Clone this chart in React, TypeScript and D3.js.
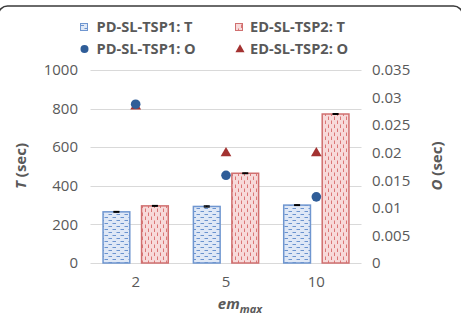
import React from "react";
import * as d3 from "d3";

// categories (em_max) and the two heuristics
const categories = ["2", "5", "10"];
const seriesNames = ["PD-SL-TSP1", "ED-SL-TSP2"];

// total time T (sec), bars
const pdTime = [265, 293, 300];
const edTime = [296, 465, 772];
const pdTimeErr = [2, 3, 2];
const edTimeErr = [2, 2, 2];

// overhead O (sec), markers
const pdOverhead = [0.0288, 0.0159, 0.012];
const edOverhead = [0.0284, 0.0199, 0.0199];

const leftTicks = [0, 200, 400, 600, 800, 1000];
const rightTicks = [0, 0.005, 0.01, 0.015, 0.02, 0.025, 0.03, 0.035];

const W = 461;
const H = 316;
const FONT = "'Open Sans', sans-serif";
const TEXT = "#595959";
const BLUE_LINE = "#6f96d0";
const BLUE_FILL = "#dfe8f6";
const BLUE_DASH = "#6a93cf";
const RED_LINE = "#d07070";
const RED_FILL = "#f7dada";
const RED_DASH = "#dc7676";
const DOT = "#2f5d98";
const TRI = "#a33231";

export default function App() {
  const margin = { left: 90.5, right: W - 361.5, top: 70, bottom: H - 263 };
  const x0 = d3
    .scaleBand<string>()
    .domain(categories)
    .range([margin.left, W - margin.right]);
  const x1 = d3
    .scaleBand<string>()
    .domain(seriesNames)
    .range([0, x0.bandwidth()])
    .paddingInner(0.305)
    .paddingOuter(0.326);
  const yL = d3.scaleLinear().domain([0, 1000]).range([H - margin.bottom, margin.top]);
  const yR = d3.scaleLinear().domain([0, 0.035]).range([H - margin.bottom, margin.top]);

  const bars = [
    { name: seriesNames[0], vals: pdTime, err: pdTimeErr, fill: "url(#hdash)", stroke: BLUE_LINE },
    { name: seriesNames[1], vals: edTime, err: edTimeErr, fill: "url(#vdash)", stroke: RED_LINE },
  ];
  const triangle = d3.symbol(d3.symbolTriangle, 50)() as string;
  const cx = (c: string) => (x0(c) as number) + x0.bandwidth() / 2;

  return (
    <svg
      width={W}
      height={H}
      style={{ position: "absolute", left: 0, top: 0, background: "#fff" }}
      fontFamily={FONT}
    >
      <defs>
        <pattern id="hdash" patternUnits="userSpaceOnUse" width="8" height="6">
          <rect width="8" height="6" fill={BLUE_FILL} />
          <line x1="0.5" y1="1.5" x2="4" y2="1.5" stroke={BLUE_DASH} strokeWidth="1" />
          <line x1="4.5" y1="4.5" x2="8" y2="4.5" stroke={BLUE_DASH} strokeWidth="1" />
        </pattern>
        <pattern id="vdash" patternUnits="userSpaceOnUse" width="6" height="8">
          <rect width="6" height="8" fill={RED_FILL} />
          <line x1="1.5" y1="0.5" x2="1.5" y2="4" stroke={RED_DASH} strokeWidth="1" />
          <line x1="4.5" y1="4.5" x2="4.5" y2="8" stroke={RED_DASH} strokeWidth="1" />
        </pattern>
      </defs>

      {/* frame */}
      <rect x={-1.5} y={6} width={W + 3} height={H + 20} rx={9} fill="none" stroke="#3a3a3a" strokeWidth={1.5} />

      {/* gridlines */}
      {leftTicks.map((t) => (
        <line
          key={t}
          x1={margin.left}
          x2={W - margin.right}
          y1={Math.round(yL(t)) + 0.5}
          y2={Math.round(yL(t)) + 0.5}
          stroke="#d9d9d9"
          strokeWidth={1}
        />
      ))}

      {/* left axis */}
      {leftTicks.map((t) => (
        <text key={t} x={78} y={yL(t)} dy="0.35em" textAnchor="end" fontSize={15} fill={TEXT}>
          {t}
        </text>
      ))}
      {/* right axis */}
      {rightTicks.map((t) => (
        <text key={t} x={372} y={yR(t)} dy="0.35em" textAnchor="start" fontSize={15} fill={TEXT}>
          {t}
        </text>
      ))}

      {/* bars */}
      {bars.map((s) =>
        categories.map((c, i) => {
          const bx = (x0(c) as number) + (x1(s.name) as number);
          const y = yL(s.vals[i]);
          const mid = bx + x1.bandwidth() / 2;
          return (
            <g key={s.name + c}>
              <rect
                x={bx}
                y={y}
                width={x1.bandwidth()}
                height={yL(0) - y}
                fill={s.fill}
                stroke={s.stroke}
                strokeWidth={1.5}
              />
              <line x1={mid} x2={mid} y1={yL(s.vals[i] - s.err[i])} y2={yL(s.vals[i] + s.err[i])} stroke="#000" strokeWidth={1.2} />
              <line x1={mid - 3} x2={mid + 3} y1={yL(s.vals[i] + s.err[i])} y2={yL(s.vals[i] + s.err[i])} stroke="#000" strokeWidth={1.2} />
              <line x1={mid - 3} x2={mid + 3} y1={yL(s.vals[i] - s.err[i])} y2={yL(s.vals[i] - s.err[i])} stroke="#000" strokeWidth={1.2} />
            </g>
          );
        })
      )}

      {/* overhead markers */}
      {categories.map((c, i) => (
        <g key={"m" + c}>
          <path d={triangle} transform={`translate(${cx(c)},${yR(edOverhead[i])})`} fill={TRI} />
          <circle cx={cx(c)} cy={yR(pdOverhead[i])} r={4.8} fill={DOT} />
        </g>
      ))}

      {/* x tick labels */}
      {categories.map((c) => (
        <text key={"x" + c} x={cx(c)} y={287} textAnchor="middle" fontSize={15} fill={TEXT}>
          {c}
        </text>
      ))}

      {/* axis titles */}
      <text x={240} y={309} textAnchor="middle" fontSize={15} fontWeight="bold" fontStyle="italic" fill={TEXT}>
        em
        <tspan fontSize={11} dy={4}>
          max
        </tspan>
      </text>
      <text transform="translate(26,166) rotate(-90)" textAnchor="middle" fontSize={15} fontWeight="bold" fill={TEXT}>
        <tspan fontStyle="italic">T</tspan> (sec)
      </text>
      <text transform="translate(442,166) rotate(-90)" textAnchor="middle" fontSize={15} fontWeight="bold" fill={TEXT}>
        <tspan fontStyle="italic">O</tspan> (sec)
      </text>

      {/* legend */}
      <g fontSize={14.6} fontWeight="bold" fill={TEXT}>
        <rect x={80.5} y={23.5} width={7} height={7} fill="url(#hdash)" stroke={BLUE_LINE} />
        <text x={96.5} y={31.5}>PD-SL-TSP1: T</text>
        <rect x={235.5} y={23.5} width={7} height={7} fill="url(#vdash)" stroke={RED_LINE} />
        <text x={250} y={31.5}>ED-SL-TSP2: T</text>
        <circle cx={84.5} cy={49} r={4} fill={DOT} />
        <text x={96.5} y={53.5}>PD-SL-TSP1: O</text>
        <path d={d3.symbol(d3.symbolTriangle, 36)() as string} transform="translate(240,49.5)" fill={TRI} />
        <text x={250} y={53.5}>ED-SL-TSP2: O</text>
      </g>
    </svg>
  );
}
